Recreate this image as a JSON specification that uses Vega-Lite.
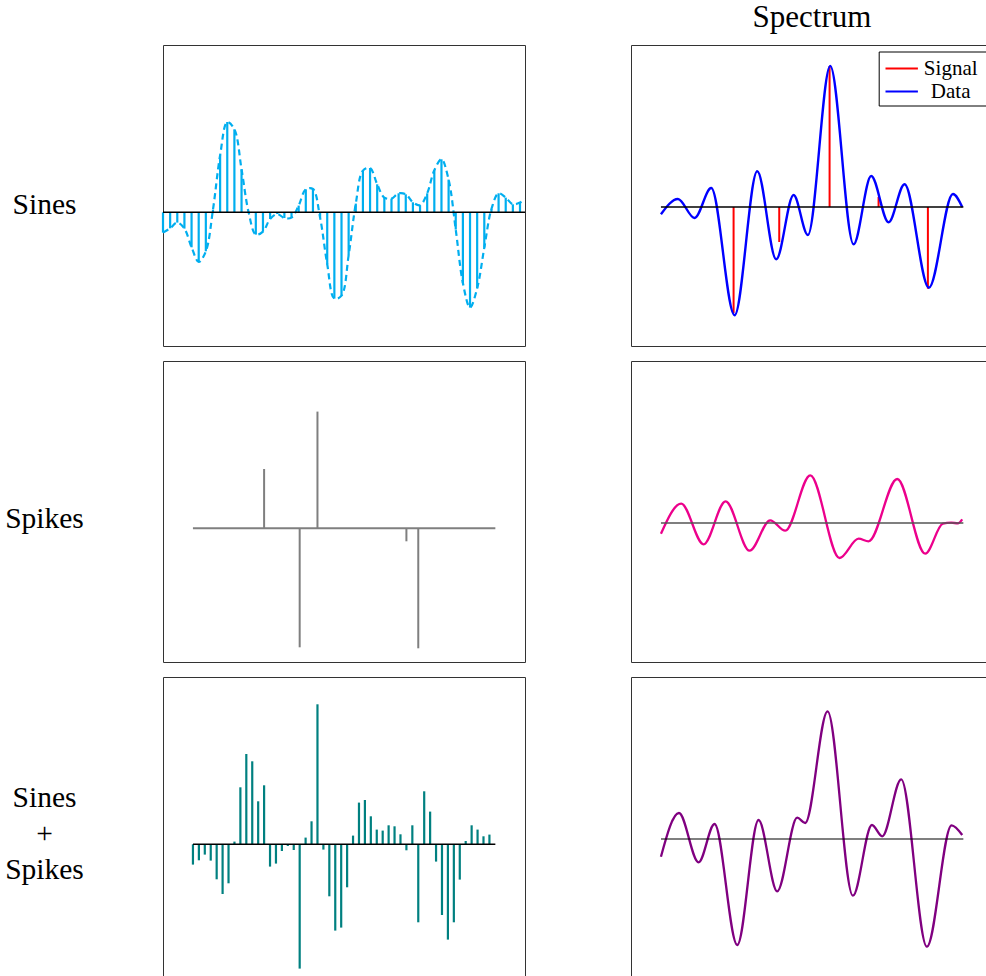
{
  "$schema": "https://vega.github.io/schema/vega-lite/v6.json",
  "background": "white",
  "padding": {"left": 4, "top": 1, "right": 0, "bottom": 0},
  "config": {
    "view": {"stroke": "#333333", "strokeWidth": 1},
    "font": "Liberation Serif",
    "axisY": {
      "domain": false, "ticks": false, "labels": false, "grid": false,
      "titleAngle": 0, "titleAlign": "center", "titleBaseline": "alphabetic",
      "titleX": -119, "titleFont": "Liberation Serif", "titleFontSize": 29.5,
      "titleFontWeight": "normal", "titleColor": "black", "titleLineHeight": 36.3
    },
    "title": {"font": "Liberation Serif", "fontSize": 31, "fontWeight": "normal", "color": "black"}
  },
  "resolve": {"scale": {"color": "independent"}, "legend": {"color": "independent"}},
  "datasets": {
    "sines": [
      {"i": 0, "v": -0.203}, {"i": 1, "v": -0.16}, {"i": 2, "v": -0.103}, {"i": 3, "v": -0.163},
      {"i": 4, "v": -0.35}, {"i": 5, "v": -0.497}, {"i": 6, "v": -0.39}, {"i": 7, "v": 0.027},
      {"i": 8, "v": 0.57}, {"i": 9, "v": 0.903}, {"i": 10, "v": 0.83}, {"i": 11, "v": 0.43},
      {"i": 12, "v": -0.003}, {"i": 13, "v": -0.223}, {"i": 14, "v": -0.193}, {"i": 15, "v": -0.067},
      {"i": 16, "v": -0.017}, {"i": 17, "v": -0.057}, {"i": 18, "v": -0.053}, {"i": 19, "v": 0.067},
      {"i": 20, "v": 0.23}, {"i": 21, "v": 0.233}, {"i": 22, "v": -0.053}, {"i": 23, "v": -0.52},
      {"i": 24, "v": -0.863}, {"i": 25, "v": -0.833}, {"i": 26, "v": -0.43}, {"i": 27, "v": 0.087},
      {"i": 28, "v": 0.417}, {"i": 29, "v": 0.443}, {"i": 30, "v": 0.28}, {"i": 31, "v": 0.147},
      {"i": 32, "v": 0.137}, {"i": 33, "v": 0.19}, {"i": 34, "v": 0.18}, {"i": 35, "v": 0.1},
      {"i": 36, "v": 0.07}, {"i": 37, "v": 0.19}, {"i": 38, "v": 0.42}, {"i": 39, "v": 0.53},
      {"i": 40, "v": 0.327}, {"i": 41, "v": -0.173}, {"i": 42, "v": -0.707}, {"i": 43, "v": -0.953},
      {"i": 44, "v": -0.76}, {"i": 45, "v": -0.353}, {"i": 46, "v": 0.033}, {"i": 47, "v": 0.19},
      {"i": 48, "v": 0.147}, {"i": 49, "v": 0.08}, {"i": 50, "v": 0.097}
    ],
    "sinecurve": [
      {"i": 0, "v": -0.203}, {"i": 1, "v": -0.16}, {"i": 2, "v": -0.103}, {"i": 3, "v": -0.163},
      {"i": 4, "v": -0.35}, {"i": 5, "v": -0.497}, {"i": 6, "v": -0.39}, {"i": 7, "v": 0.027},
      {"i": 8, "v": 0.57}, {"i": 9, "v": 0.903}, {"i": 10, "v": 0.83}, {"i": 11, "v": 0.43},
      {"i": 12, "v": -0.003}, {"i": 13, "v": -0.223}, {"i": 14, "v": -0.193}, {"i": 15, "v": -0.067},
      {"i": 16, "v": -0.017}, {"i": 17, "v": -0.057}, {"i": 18, "v": -0.053}, {"i": 19, "v": 0.067},
      {"i": 20, "v": 0.23}, {"i": 21, "v": 0.233}, {"i": 22, "v": -0.053}, {"i": 23, "v": -0.52},
      {"i": 24, "v": -0.863}, {"i": 25, "v": -0.833}, {"i": 26, "v": -0.43}, {"i": 27, "v": 0.087},
      {"i": 28, "v": 0.417}, {"i": 29, "v": 0.443}, {"i": 30, "v": 0.28}, {"i": 31, "v": 0.147},
      {"i": 32, "v": 0.137}, {"i": 33, "v": 0.19}, {"i": 34, "v": 0.18}, {"i": 35, "v": 0.1},
      {"i": 36, "v": 0.07}, {"i": 37, "v": 0.19}, {"i": 38, "v": 0.42}, {"i": 39, "v": 0.53},
      {"i": 40, "v": 0.327}, {"i": 41, "v": -0.173}, {"i": 42, "v": -0.707}, {"i": 43, "v": -0.953},
      {"i": 44, "v": -0.76}, {"i": 45, "v": -0.353}, {"i": 46, "v": 0.033}, {"i": 47, "v": 0.19},
      {"i": 48, "v": 0.147}, {"i": 49, "v": 0.08}, {"i": 50, "v": 0.097}, {"i": 50.7, "v": 0.13}
    ],
    "spikes": [
      {"i": 12, "v": 0.593}, {"i": 18, "v": -1.19}, {"i": 21, "v": 1.167}, {"i": 36, "v": -0.13}, {"i": 38, "v": -1.2}
    ],
    "mixed": [
      {"i": 0, "v": -0.203}, {"i": 1, "v": -0.16}, {"i": 2, "v": -0.103}, {"i": 3, "v": -0.163},
      {"i": 4, "v": -0.35}, {"i": 5, "v": -0.497}, {"i": 6, "v": -0.39}, {"i": 7, "v": 0.027},
      {"i": 8, "v": 0.57}, {"i": 9, "v": 0.903}, {"i": 10, "v": 0.83}, {"i": 11, "v": 0.43},
      {"i": 12, "v": 0.59}, {"i": 13, "v": -0.223}, {"i": 14, "v": -0.193}, {"i": 15, "v": -0.067},
      {"i": 16, "v": -0.017}, {"i": 17, "v": -0.057}, {"i": 18, "v": -1.243}, {"i": 19, "v": 0.067},
      {"i": 20, "v": 0.23}, {"i": 21, "v": 1.4}, {"i": 22, "v": -0.053}, {"i": 23, "v": -0.52},
      {"i": 24, "v": -0.863}, {"i": 25, "v": -0.833}, {"i": 26, "v": -0.43}, {"i": 27, "v": 0.087},
      {"i": 28, "v": 0.417}, {"i": 29, "v": 0.443}, {"i": 30, "v": 0.28}, {"i": 31, "v": 0.147},
      {"i": 32, "v": 0.137}, {"i": 33, "v": 0.19}, {"i": 34, "v": 0.18}, {"i": 35, "v": 0.1},
      {"i": 36, "v": -0.06}, {"i": 37, "v": 0.19}, {"i": 38, "v": -0.78}, {"i": 39, "v": 0.53},
      {"i": 40, "v": 0.327}, {"i": 41, "v": -0.173}, {"i": 42, "v": -0.707}, {"i": 43, "v": -0.953},
      {"i": 44, "v": -0.78}, {"i": 45, "v": -0.353}, {"i": 46, "v": 0.033}, {"i": 47, "v": 0.19},
      {"i": 48, "v": 0.147}, {"i": 49, "v": 0.08}, {"i": 50, "v": 0.097}
    ],
    "signal": [
      {"u": 12.25, "v": -1.06}, {"u": 19.95, "v": -0.35}, {"u": 28.44, "v": 1.41}, {"u": 36.7, "v": 0.1}, {"u": 45.02, "v": -0.817}
    ],
    "specdata": [
      {"u": 0, "v": -0.073}, {"u": 2.86, "v": 0.08}, {"u": 5.67, "v": -0.11}, {"u": 8.48, "v": 0.19},
      {"u": 12.42, "v": -1.083}, {"u": 16.24, "v": 0.357}, {"u": 19.44, "v": -0.523}, {"u": 22.37, "v": 0.12},
      {"u": 24.78, "v": -0.28}, {"u": 28.55, "v": 1.41}, {"u": 32.48, "v": -0.373}, {"u": 35.46, "v": 0.31},
      {"u": 38.39, "v": -0.153}, {"u": 41.08, "v": 0.227}, {"u": 45.19, "v": -0.807}, {"u": 49.24, "v": 0.13},
      {"u": 50.81, "v": 0.0}
    ],
    "specspikes": [
      {"u": 0, "v": -0.107}, {"u": 3.42, "v": 0.193}, {"u": 7.19, "v": -0.213}, {"u": 10.9, "v": 0.217},
      {"u": 14.95, "v": -0.277}, {"u": 18.43, "v": 0.027}, {"u": 20.96, "v": -0.077}, {"u": 25.18, "v": 0.477},
      {"u": 30.12, "v": -0.35}, {"u": 33.33, "v": -0.157}, {"u": 35.01, "v": -0.183}, {"u": 39.85, "v": 0.44},
      {"u": 44.57, "v": -0.307}, {"u": 47.55, "v": -0.007}, {"u": 48.95, "v": 0.003}, {"u": 50.08, "v": -0.003},
      {"u": 50.81, "v": 0.037}
    ],
    "specmixed": [
      {"u": 0, "v": -0.177}, {"u": 3.03, "v": 0.26}, {"u": 6.35, "v": -0.233}, {"u": 9.04, "v": 0.15},
      {"u": 12.87, "v": -1.06}, {"u": 16.46, "v": 0.19}, {"u": 19.61, "v": -0.523}, {"u": 22.98, "v": 0.213},
      {"u": 24.33, "v": 0.16}, {"u": 28.1, "v": 1.277}, {"u": 32.37, "v": -0.567}, {"u": 35.58, "v": 0.14},
      {"u": 37.32, "v": 0.027}, {"u": 40.52, "v": 0.597}, {"u": 44.85, "v": -1.077}, {"u": 49.01, "v": 0.137},
      {"u": 50.81, "v": 0.04}
    ]
  },
  "columns": 2,
  "spacing": {"row": 13, "column": 100},
  "concat": [
    {
      "width": 362, "height": 301,
      "layer": [
        {
          "data": {"name": "sines"},
          "mark": {"type": "rule", "color": "#00aeef", "strokeWidth": 2.2},
          "encoding": {
            "x": {"field": "i", "type": "quantitative", "scale": {"domain": [0, 50.7], "nice": false, "zero": false}, "axis": null},
            "y": {"field": "v", "type": "quantitative", "scale": {"domain": [-1.337, 1.673], "nice": false, "zero": false}, "title": "Sines", "axis": {"titleY": 168.3}},
            "y2": {"datum": 0}
          }
        },
        {
          "data": {"name": "sinecurve"},
          "mark": {"type": "line", "color": "#00aeef", "strokeWidth": 2.2, "strokeDash": [6, 4], "interpolate": "catmull-rom"},
          "encoding": {
            "x": {"field": "i", "type": "quantitative", "scale": {"domain": [0, 50.7], "nice": false, "zero": false}, "axis": null},
            "y": {"field": "v", "type": "quantitative", "scale": {"domain": [-1.337, 1.673], "nice": false, "zero": false}, "title": "Sines", "axis": {"titleY": 168.3}}
          }
        },
        {
          "data": {"values": [{}]},
          "mark": {"type": "rule", "color": "black", "strokeWidth": 1.5},
          "encoding": {
            "x": {"datum": 0, "type": "quantitative", "scale": {"domain": [0, 50.7], "nice": false, "zero": false}, "axis": null},
            "x2": {"datum": 50.7},
            "y": {"datum": 0, "type": "quantitative", "scale": {"domain": [-1.337, 1.673], "nice": false, "zero": false}, "title": "Sines", "axis": {"titleY": 168.3}}
          }
        }
      ]
    },
    {
      "width": 362, "height": 301,
      "title": {"text": "Spectrum", "anchor": "middle", "baseline": "alphabetic", "offset": -13},
      "layer": [
        {
          "data": {"name": "signal"},
          "mark": {"type": "rule", "strokeWidth": 2},
          "encoding": {
            "x": {"field": "u", "type": "quantitative", "scale": {"domain": [-5.05, 56], "nice": false, "zero": false}, "axis": null},
            "y": {"field": "v", "type": "quantitative", "scale": {"domain": [-1.39, 1.62], "nice": false, "zero": false}, "axis": null},
            "y2": {"datum": 0},
            "color": {
              "datum": "Signal", "type": "nominal",
              "scale": {"domain": ["Signal", "Data"], "range": ["#ff0000", "#0000ff"]},
              "legend": {
                "orient": "none", "legendX": 247.7, "legendY": 6.5,
                "title": " ", "titleOrient": "right", "titlePadding": 8, "titleFontSize": 11,
                "symbolType": "M-1.35,0H1.35", "symbolStrokeWidth": 2, "symbolSize": 576, "symbolOffset": 6,
                "labelFont": "Liberation Serif", "labelFontSize": 21, "labelColor": "black",
                "labelAlign": "center", "labelOffset": 36,
                "strokeColor": "black", "fillColor": "white", "padding": 4, "rowPadding": 0, "cornerRadius": 0
              }
            }
          }
        },
        {
          "data": {"name": "specdata"},
          "mark": {"type": "line", "strokeWidth": 2.4, "interpolate": "monotone"},
          "encoding": {
            "x": {"field": "u", "type": "quantitative", "scale": {"domain": [-5.05, 56], "nice": false, "zero": false}, "axis": null},
            "y": {"field": "v", "type": "quantitative", "scale": {"domain": [-1.39, 1.62], "nice": false, "zero": false}, "axis": null},
            "color": {"datum": "Data", "type": "nominal"}
          }
        },
        {
          "data": {"values": [{}]},
          "mark": {"type": "rule", "color": "black", "strokeWidth": 1.4},
          "encoding": {
            "x": {"datum": 0, "type": "quantitative", "scale": {"domain": [-5.05, 56], "nice": false, "zero": false}, "axis": null},
            "x2": {"datum": 51},
            "y": {"datum": 0, "type": "quantitative", "scale": {"domain": [-1.39, 1.62], "nice": false, "zero": false}, "axis": null}
          }
        }
      ]
    },
    {
      "width": 362, "height": 301,
      "layer": [
        {
          "data": {"values": [{}]},
          "mark": {"type": "rule", "color": "#7f7f7f", "strokeWidth": 2},
          "encoding": {
            "x": {"datum": 0, "type": "quantitative", "scale": {"domain": [-5.05, 56], "nice": false, "zero": false}, "axis": null},
            "x2": {"datum": 51},
            "y": {"datum": 0, "type": "quantitative", "scale": {"domain": [-1.337, 1.673], "nice": false, "zero": false}, "title": "Spikes", "axis": {"titleY": 166.5}}
          }
        },
        {
          "data": {"name": "spikes"},
          "mark": {"type": "rule", "color": "#7f7f7f", "strokeWidth": 2},
          "encoding": {
            "x": {"field": "i", "type": "quantitative", "scale": {"domain": [-5.05, 56], "nice": false, "zero": false}, "axis": null},
            "y": {"field": "v", "type": "quantitative", "scale": {"domain": [-1.337, 1.673], "nice": false, "zero": false}, "title": "Spikes", "axis": {"titleY": 166.5}},
            "y2": {"datum": 0}
          }
        }
      ]
    },
    {
      "width": 362, "height": 301,
      "layer": [
        {
          "data": {"name": "specspikes"},
          "mark": {"type": "line", "color": "#ec008c", "strokeWidth": 2.3, "interpolate": "monotone"},
          "encoding": {
            "x": {"field": "u", "type": "quantitative", "scale": {"domain": [-5.05, 56], "nice": false, "zero": false}, "axis": null},
            "y": {"field": "v", "type": "quantitative", "scale": {"domain": [-1.39, 1.62], "nice": false, "zero": false}, "axis": null}
          }
        },
        {
          "data": {"values": [{}]},
          "mark": {"type": "rule", "color": "#555555", "strokeWidth": 1.4},
          "encoding": {
            "x": {"datum": 0, "type": "quantitative", "scale": {"domain": [-5.05, 56], "nice": false, "zero": false}, "axis": null},
            "x2": {"datum": 51},
            "y": {"datum": 0, "type": "quantitative", "scale": {"domain": [-1.39, 1.62], "nice": false, "zero": false}, "axis": null}
          }
        }
      ]
    },
    {
      "width": 362, "height": 301,
      "layer": [
        {
          "data": {"name": "mixed"},
          "mark": {"type": "rule", "color": "#008080", "strokeWidth": 2.2},
          "encoding": {
            "x": {"field": "i", "type": "quantitative", "scale": {"domain": [-5.05, 56], "nice": false, "zero": false}, "axis": null},
            "y": {"field": "v", "type": "quantitative", "scale": {"domain": [-1.337, 1.673], "nice": false, "zero": false}, "title": ["Sines", "+", "Spikes"], "axis": {"titleY": 129.3}},
            "y2": {"datum": 0}
          }
        },
        {
          "data": {"values": [{}]},
          "mark": {"type": "rule", "color": "black", "strokeWidth": 1.5},
          "encoding": {
            "x": {"datum": 0, "type": "quantitative", "scale": {"domain": [-5.05, 56], "nice": false, "zero": false}, "axis": null},
            "x2": {"datum": 51},
            "y": {"datum": 0, "type": "quantitative", "scale": {"domain": [-1.337, 1.673], "nice": false, "zero": false}, "title": ["Sines", "+", "Spikes"], "axis": {"titleY": 129.3}}
          }
        }
      ]
    },
    {
      "width": 362, "height": 301,
      "layer": [
        {
          "data": {"name": "specmixed"},
          "mark": {"type": "line", "color": "#800080", "strokeWidth": 2.3, "interpolate": "monotone"},
          "encoding": {
            "x": {"field": "u", "type": "quantitative", "scale": {"domain": [-5.05, 56], "nice": false, "zero": false}, "axis": null},
            "y": {"field": "v", "type": "quantitative", "scale": {"domain": [-1.39, 1.62], "nice": false, "zero": false}, "axis": null}
          }
        },
        {
          "data": {"values": [{}]},
          "mark": {"type": "rule", "color": "black", "strokeWidth": 1.2},
          "encoding": {
            "x": {"datum": 0, "type": "quantitative", "scale": {"domain": [-5.05, 56], "nice": false, "zero": false}, "axis": null},
            "x2": {"datum": 51},
            "y": {"datum": 0, "type": "quantitative", "scale": {"domain": [-1.39, 1.62], "nice": false, "zero": false}, "axis": null}
          }
        }
      ]
    }
  ]
}
